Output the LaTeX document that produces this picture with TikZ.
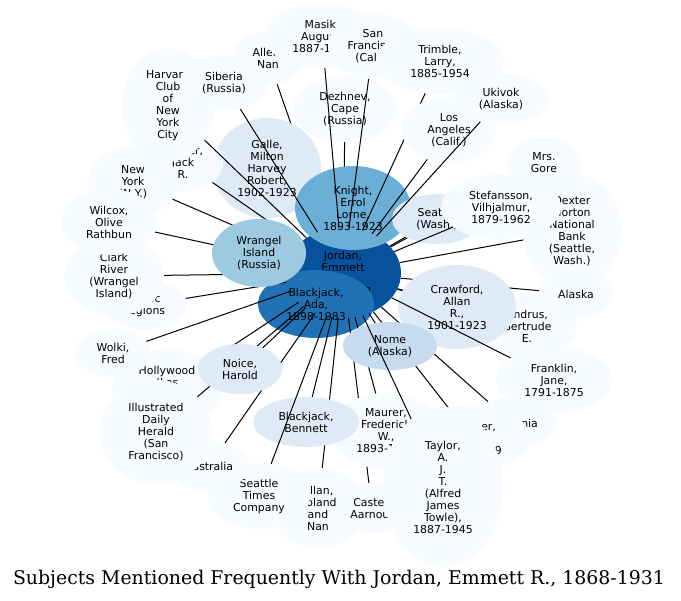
\documentclass[tikz,border=0pt]{standalone}
\usepackage{fontspec}
\usetikzlibrary{shapes.geometric}
\newfontfamily\lblfont{DejaVu Sans}
\newfontfamily\ttlfont{DejaVu Serif}
\definecolor{blues1}{HTML}{F7FBFF}
\definecolor{blues2}{HTML}{DEEBF7}
\definecolor{blues3}{HTML}{C6DBEF}
\definecolor{blues4}{HTML}{9ECAE1}
\definecolor{blues5}{HTML}{6BAED6}
\definecolor{blues7}{HTML}{2171B5}
\definecolor{blues8}{HTML}{08519C}
\tikzset{sz/.style 2 args={minimum width=#1pt, minimum height=#2pt}}
\begin{document}
\begin{tikzpicture}[x=1pt,y=-1pt]
        \tikzstyle{subj}=[ellipse, inner sep=0pt, align=center, font=\lblfont\fontsize{10.9}{12}\selectfont]
        \tikzstyle{edge}=[line width=1pt]
        \useasboundingbox (0,0) rectangle (681,601);
        \node[subj, fill=blues8, sz={116}{90}] (jordan) at (343,273) {Jordan,\\Emmett\\R.,\\1868-1931};
        \node[subj, fill=blues7, sz={116}{68}] (ada) at (316,304) {Blackjack,\\Ada,\\1898-1983};
        \node[subj, fill=blues1, sz={104}{66}] (dezhnev) at (345,109) {Dezhnev,\\Cape\\(Russia)};
        \draw[edge] (jordan) -- (dezhnev);
        \node[subj, fill=blues1, sz={72}{54}] (allen) at (268,58) {Allen,\\Nan};
        \draw[edge] (jordan) -- (allen);
        \node[subj, fill=blues2, sz={108}{100}] (galle) at (267,168) {Galle,\\Milton\\Harvey\\Robert,\\1902-1923};
        \draw[edge] (jordan) -- (galle);
        \node[subj, fill=blues5, sz={116}{84}] (knight) at (353,208) {Knight,\\Errol\\Lorne,\\1893-1923};
        \node[subj, fill=blues1, sz={74}{50}] (gore) at (544,163) {Mrs.\\Gore};
        \draw[edge] (jordan) -- (gore);
        \node[subj, fill=blues2, sz={90}{50}] (seattle) at (437,219) {Seattle\\(Wash.)};
        \draw[edge] (jordan) -- (seattle);
        \node[subj, fill=blues1, sz={98}{116}] (dexter) at (572,231) {Dexter\\Horton\\National\\Bank\\(Seattle,\\Wash.)};
        \draw[edge] (jordan) -- (dexter);
        \node[subj, fill=blues1, sz={120}{66}] (stefansson) at (501,207) {Stefansson,\\Vilhjalmur,\\1879-1962};
        \draw[edge] (jordan) -- (stefansson);
        \node[subj, fill=blues1, sz={116}{64}] (masik) at (322,36) {Masik,\\August,\\1887-1961};
        \draw[edge] (jordan) -- (masik);
        \node[subj, fill=blues1, sz={90}{66}] (sanfran) at (373,46) {San\\Francisco\\(Calif.)};
        \draw[edge] (jordan) -- (sanfran);
        \node[subj, fill=blues1, sz={128}{66}] (trimble) at (440,61) {Trimble,\\Larry,\\1885-1954};
        \draw[edge] (jordan) -- (trimble);
        \node[subj, fill=blues1, sz={94}{66}] (losangeles) at (449,130) {Los\\Angeles\\(Calif.)};
        \draw[edge] (jordan) -- (losangeles);
        \node[subj, fill=blues1, sz={96}{50}] (ukivok) at (501,99) {Ukivok\\(Alaska)};
        \draw[edge] (jordan) -- (ukivok);
        \node[subj, fill=blues1, sz={74}{50}] (alaska) at (576,294) {Alaska};
        \draw[edge] (jordan) -- (alaska);
        \node[subj, fill=blues1, sz={100}{66}] (andrus) at (527,326) {Andrus,\\Gertrude\\E.};
        \draw[edge] (jordan) -- (andrus);
        \node[subj, fill=blues2, sz={118}{84}] (crawford) at (457,307) {Crawford,\\Allan\\R.,\\1901-1923};
        \draw[edge] (jordan) -- (crawford);
        \node[subj, fill=blues1, sz={116}{66}] (franklin) at (554,380) {Franklin,\\Jane,\\1791-1875};
        \draw[edge] (jordan) -- (franklin);
        \node[subj, fill=blues1, sz={90}{50}] (california) at (512,423) {California};
        \draw[edge] (jordan) -- (california);
        \node[subj, fill=blues1, sz={116}{66}] (fletcher) at (472,438) {Fletcher,\\John\\1880-1949};
        \draw[edge] (jordan) -- (fletcher);
        \node[subj, fill=blues1, sz={96}{80}] (allan) at (318,508) {Allan,\\Roland\\and\\Nan};
        \draw[edge] (jordan) -- (allan);
        \node[subj, fill=blues1, sz={72}{50}] (castel) at (372,508) {Castel,\\Aarnout};
        \draw[edge] (jordan) -- (castel);
        \node[subj, fill=blues1, sz={110}{76}] (maurer) at (386,431) {Maurer,\\Frederick\\W.,\\1893-1955};
        \draw[edge] (jordan) -- (maurer);
        \node[subj, fill=blues3, sz={94}{48}] (nome) at (390,346) {Nome\\(Alaska)};
        \draw[edge] (jordan) -- (nome);
        \node[subj, fill=blues1, sz={120}{160}] (taylor) at (443,487) {Taylor,\\A.\\J.\\T.\\(Alfred\\James\\Towle),\\1887-1945};
        \draw[edge] (jordan) -- (taylor);
        \node[subj, fill=blues2, sz={106}{50}] (bennett) at (306,422) {Blackjack,\\Bennett};
        \draw[edge] (jordan) -- (bennett);
        \node[subj, fill=blues1, sz={102}{66}] (seatimes) at (259,496) {Seattle\\Times\\Company};
        \draw[edge] (jordan) -- (seatimes);
        \node[subj, fill=blues1, sz={80}{50}] (australia) at (209,466) {Australia};
        \draw[edge] (jordan) -- (australia);
        \node[subj, fill=blues1, sz={110}{80}] (hollywood) at (167,389) {Hollywood\\(Los\\Angeles,\\Calif.)};
        \draw[edge] (jordan) -- (hollywood);
        \node[subj, fill=blues1, sz={112}{104}] (herald) at (156,432) {Illustrated\\Daily\\Herald\\(San\\Francisco)};
        \draw[edge] (jordan) -- (herald);
        \node[subj, fill=blues2, sz={84}{50}] (noice) at (240,369) {Noice,\\Harold};
        \draw[edge] (jordan) -- (noice);
        \node[subj, fill=blues1, sz={76}{48}] (wolki) at (113,353) {Wolki,\\Fred};
        \draw[edge] (jordan) -- (wolki);
        \node[subj, fill=blues1, sz={84}{50}] (arctic) at (145,305) {Arctic\\regions};
        \draw[edge] (jordan) -- (arctic);
        \node[subj, fill=blues1, sz={100}{80}] (clark) at (114,276) {Clark\\River\\(Wrangel\\Island)};
        \draw[edge] (jordan) -- (clark);
        \node[subj, fill=blues1, sz={80}{60}] (walker) at (183,162) {Walker,\\Jack\\R.};
        \draw[edge] (jordan) -- (walker);
        \node[subj, fill=blues1, sz={90}{70}] (newyork) at (133,182) {New\\York\\(N.Y.)};
        \draw[edge] (jordan) -- (newyork);
        \node[subj, fill=blues1, sz={96}{66}] (wilcox) at (109,222) {Wilcox,\\Olive\\Rathbun};
        \draw[edge] (jordan) -- (wilcox);
        \node[subj, fill=blues1, sz={92}{114}] (harvard) at (168,105) {Harvard\\Club\\of\\New\\York\\City};
        \draw[edge] (jordan) -- (harvard);
        \node[subj, fill=blues1, sz={88}{56}] (siberia) at (224,83) {Siberia\\(Russia)};
        \draw[edge] (jordan) -- (siberia);
        \node[subj, fill=blues4, sz={94}{68}] (wrangel) at (259,253) {Wrangel\\Island\\(Russia)};
        \node[font=\ttlfont\fontsize{18.9}{20}\selectfont, anchor=base] (title) at (339,585) {Subjects Mentioned Frequently With Jordan, Emmett R., 1868-1931};
    \end{tikzpicture}
\end{document}
